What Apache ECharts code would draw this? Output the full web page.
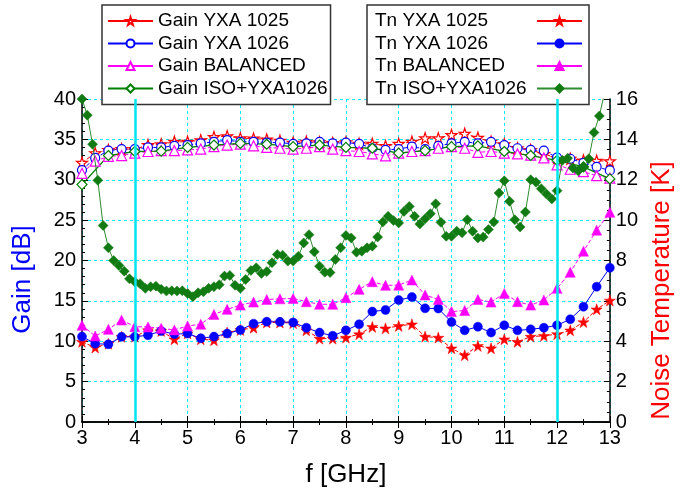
<!DOCTYPE html>
<html>
<head>
<meta charset="utf-8">
<script src="https://cdn.jsdelivr.net/npm/echarts@6/dist/echarts.min.js"></script>
<style>html,body{margin:0;padding:0;background:#fff}#c{width:683px;height:493px}</style>
</head>
<body>
<div id="c"></div>
<script>
// Frequencies (GHz)
const freqQ = [3,3.25,3.5,3.75,4,4.25,4.5,4.75,5,5.25,5.5,5.75,6,6.25,6.5,6.75,7,7.25,7.5,7.75,8,8.25,8.5,8.75,9,9.25,9.5,9.75,10,10.25,10.5,10.75,11,11.25,11.5,11.75,12,12.25,12.5,12.75,13];
const freqH = [3,3.5,4,4.5,5,5.5,6,6.5,7,7.5,8,8.5,9,9.5,10,10.5,11,11.5,12,12.5,13];
const freqT = [3,3.1,3.2,3.3,3.4,3.5,3.6,3.7,3.8,3.9,4,4.1,4.2,4.3,4.4,4.5,4.6,4.7,4.8,4.9,5,5.1,5.2,5.3,5.4,5.5,5.6,5.7,5.8,5.9,6,6.1,6.2,6.3,6.4,6.5,6.6,6.7,6.8,6.9,7,7.1,7.2,7.3,7.4,7.5,7.6,7.7,7.8,7.9,8,8.1,8.2,8.3,8.4,8.5,8.6,8.7,8.8,8.9,9,9.1,9.2,9.3,9.4,9.5,9.6,9.7,9.8,9.9,10,10.1,10.2,10.3,10.4,10.5,10.6,10.7,10.8,10.9,11,11.1,11.2,11.3,11.4,11.5,11.6,11.7,11.8,11.9,12,12.1,12.2,12.3,12.4,12.5,12.6,12.7,12.8,12.9,13];

// Gain [dB]
const gain1025 = [32.1,33.3,33.7,33.8,33.8,34.3,34.4,34.7,34.7,34.9,35.3,35.4,35.15,35.1,35.0,34.85,34.6,34.7,34.65,34.55,34.65,34.45,34.45,34.2,34.45,34.7,35.15,35.15,35.55,35.7,35.2,34.7,34.4,33.9,33.7,33.2,32.7,32.6,32.4,32.35,32.3];
const gain1026 = [31.2,32.7,33.6,33.8,33.8,34.0,34.0,34.2,34.3,34.5,34.7,34.9,34.7,34.7,34.6,34.6,34.45,34.5,34.7,34.5,34.6,34.45,33.9,33.7,33.8,34.1,33.8,34.2,34.5,34.7,34.5,34.7,34.3,33.9,33.7,33.6,32.75,32.6,32.1,31.6,31.15];
const gainBal = [30.8,32.3,32.9,33.0,33.3,33.5,33.6,33.6,33.7,33.8,34.1,34.3,34.4,34.2,34.0,33.9,33.8,33.9,34.1,33.8,33.6,33.5,33.2,32.96,33.3,33.5,33.6,33.9,34.1,33.9,33.4,33.5,33.3,33.2,33.05,32.7,31.85,31.3,31.0,30.5,30.2];
const gainIso = [29.4,33.0,33.5,33.55,34.0,34.3,34.5,34.4,34.1,34.3,34.0,33.9,33.3,33.6,34.1,34.2,33.5,33.0,32.4,31.6,30.1];

// Noise temperature [K]
const tn1025 = [3.97,3.69,3.88,4.22,4.23,4.55,4.51,4.10,4.39,4.10,4.05,4.43,4.56,4.67,4.93,4.93,4.90,4.54,4.13,4.13,4.18,4.35,4.71,4.64,4.76,4.84,4.23,4.18,3.65,3.31,3.77,3.65,4.10,3.97,4.23,4.27,4.35,4.54,4.95,5.58,6.02];
const tn1026 = [4.23,3.88,3.85,4.22,4.22,4.30,4.51,4.35,4.38,4.15,4.23,4.38,4.56,4.87,4.97,4.96,4.93,4.67,4.43,4.27,4.54,4.84,5.47,5.55,6.04,6.19,5.63,5.62,4.95,4.54,4.72,4.43,4.79,4.54,4.59,4.67,4.79,5.09,5.71,6.70,7.64];
const tnBal = [4.79,4.26,4.59,5.05,4.72,4.71,4.64,4.56,4.76,4.84,5.33,5.58,5.79,5.94,6.07,6.10,6.12,5.96,5.83,5.83,6.16,6.57,6.95,6.77,6.78,7.03,6.29,6.07,5.47,5.52,6.07,5.94,6.37,5.96,5.79,6.04,6.62,7.42,8.46,9.5,10.39];
const tnIso = [16.0,15.2,13.76,11.97,9.73,8.63,8.0,7.75,7.47,7.09,6.95,6.85,6.62,6.70,6.73,6.57,6.49,6.5,6.49,6.5,6.37,6.21,6.4,6.45,6.62,6.7,6.8,7.23,7.26,6.77,6.62,7.06,7.51,7.64,7.36,7.45,7.89,8.30,8.26,7.97,7.97,8.21,8.87,9.28,8.43,7.72,7.42,7.4,8.05,8.63,9.24,9.12,8.41,8.46,8.63,8.71,9.16,9.91,10.19,9.98,9.86,10.43,10.68,10.19,9.81,10.07,10.32,10.81,9.89,9.20,9.20,9.45,9.37,10.02,9.45,9.12,9.16,9.53,9.91,11.34,11.95,10.93,10.02,9.66,10.40,12.0,11.88,11.56,11.29,11.05,11.46,12.96,13.07,12.58,12.44,12.63,13.04,14.34,15.16,16.3,17.5];

const xTicks = [3,4,5,6,7,8,9,10,11,12,13];
const markFreqs = [4, 12];

const FONT = 'Liberation Sans, Arial, sans-serif';
const STAR = 'path://M50,2 L61.5,36 L97,36 L68.5,57.5 L79,92 L50,71 L21,92 L31.5,57.5 L3,36 L38.5,36 Z';
const zip = (xs, ys) => xs.map((x, i) => [x, ys[i]]);

const chart = echarts.init(document.getElementById('c'), null, {renderer: 'canvas'});

function gainSeries(name, xs, ys, color, symbol, size, lineType, lw) {
  return {
    name, type: 'line', xAxisIndex: 0, yAxisIndex: 0, data: zip(xs, ys),
    symbol, symbolSize: size, showSymbol: true,
    lineStyle: {color, width: lw, type: lineType},
    itemStyle: {color: '#fff', borderColor: color, borderWidth: 1.2},
    emphasis: {disabled: true}, z: 3
  };
}
function tnSeries(name, xs, ys, color, symbol, size, lineType, lineColor) {
  return {
    name, type: 'line', xAxisIndex: 0, yAxisIndex: 1, data: zip(xs, ys),
    symbol, symbolSize: size, showSymbol: true,
    lineStyle: {color: lineColor || color, width: 1, type: lineType},
    itemStyle: {color, borderColor: color, borderWidth: 0.5},
    emphasis: {disabled: true}, z: 4
  };
}

const series = [
  gainSeries('Gain YXA 1025', freqQ, gain1025, '#ff0000', STAR, 11, [4, 2], 1),
  gainSeries('Gain YXA 1026', freqQ, gain1026, '#0000ff', 'circle', 9, [4, 2], 1),
  gainSeries('Gain BALANCED', freqQ, gainBal, '#ff00ff', 'triangle', 10, [4, 2], 1),
  gainSeries('Gain ISO+YXA1026', freqH, gainIso, '#008000', 'diamond', 10, 'solid', 1.3),
  tnSeries('Tn YXA 1025', freqQ, tn1025, '#ff0000', STAR, 11, [4, 2]),
  tnSeries('Tn YXA 1026', freqQ, tn1026, '#0000ff', 'circle', 9, 'solid'),
  tnSeries('Tn BALANCED', freqQ, tnBal, '#ff00ff', 'triangle', 10, [4, 2]),
  tnSeries('Tn ISO+YXA1026', freqT, tnIso, '#127a12', 'diamond', 10, 'solid', '#2e8b2e')
];
series[0].markLine = {
  silent: true, symbol: ['none', 'none'], label: {show: false},
  lineStyle: {color: '#00e6f0', width: 2.5, type: 'solid'},
  data: markFreqs.map(f => ({xAxis: f}))
};

const gridLine = {show: true, lineStyle: {color: '#00f0ff', width: 1, type: [3, 3]}};
const axisLineStyle = {show: true, lineStyle: {color: '#000', width: 1.5}};
const labelStyle = {color: '#000', fontSize: 20, fontFamily: FONT, margin: 6};

const legendCommon = {
  orient: 'vertical', top: 5, itemWidth: 45, itemHeight: 10, itemGap: 3.5,
  borderColor: '#333', borderWidth: 1.5, backgroundColor: '#fff',
  textStyle: {color: '#000', fontSize: 19, lineHeight: 19, fontFamily: FONT},
  lineStyle: {type: 'solid'}, selectedMode: false
};

chart.setOption({
  animation: false,
  backgroundColor: '#fff',
  grid: {left: 82, right: 71, top: 99, bottom: 70},
  legend: [
    Object.assign({}, legendCommon, {
      left: 102, padding: [6.5, 3, 6.5, 5],
      data: ['Gain YXA 1025', 'Gain YXA 1026', 'Gain BALANCED', 'Gain ISO+YXA1026']
    }),
    Object.assign({}, legendCommon, {
      left: 367, align: 'right', padding: [6.5, 6, 6.5, 8],
      formatter: name => '{t|' + name + '}',
      textStyle: Object.assign({}, legendCommon.textStyle, {
        rich: {t: {width: 157, align: 'left', fontSize: 19, lineHeight: 19, fontFamily: FONT, color: '#000'}}
      }),
      data: ['Tn YXA 1025', 'Tn YXA 1026', 'Tn BALANCED', 'Tn ISO+YXA1026']
    })
  ],
  xAxis: [
    {
      type: 'value', min: 3, max: 13, interval: 1, position: 'bottom',
      axisLine: axisLineStyle,
      axisTick: {show: true, inside: true, length: 6, lineStyle: {color: '#000', width: 1}},
      minorTick: {show: true, splitNumber: 2, length: 3, lineStyle: {color: '#000'}},
      axisLabel: Object.assign({}, labelStyle, {formatter: v => xTicks.includes(v) ? String(v) : ''}),
      splitLine: gridLine,
      name: 'f [GHz]', nameLocation: 'middle', nameGap: 40,
      nameTextStyle: {color: '#000', fontSize: 26, fontFamily: FONT}
    },
    {
      type: 'value', min: 3, max: 13, interval: 1, position: 'top',
      axisLine: axisLineStyle,
      axisTick: {show: true, inside: true, length: 6, lineStyle: {color: '#000'}},
      minorTick: {show: true, splitNumber: 2, length: 3, lineStyle: {color: '#000'}},
      axisLabel: {show: false}, splitLine: {show: false}
    }
  ],
  yAxis: [
    {
      type: 'value', min: 0, max: 40, interval: 5, position: 'left',
      axisLine: axisLineStyle,
      axisTick: {show: true, inside: true, length: 6, lineStyle: {color: '#000'}},
      minorTick: {show: true, splitNumber: 5, length: 3, lineStyle: {color: '#000'}},
      axisLabel: labelStyle,
      splitLine: gridLine,
      name: 'Gain [dB]', nameLocation: 'middle', nameRotate: 90, nameGap: 46,
      nameTextStyle: {color: '#0000ff', fontSize: 26, fontFamily: FONT, padding: [0, 38, 0, 0]}
    },
    {
      type: 'value', min: 0, max: 16, interval: 2, position: 'right',
      axisLine: axisLineStyle,
      axisTick: {show: true, inside: true, length: 6, lineStyle: {color: '#000'}},
      minorTick: {show: true, splitNumber: 4, length: 3, lineStyle: {color: '#000'}},
      axisLabel: labelStyle,
      splitLine: {show: false},
      name: 'Noise Temperature [K]', nameLocation: 'middle', nameRotate: 90, nameGap: 38,
      nameTextStyle: {color: '#ff0000', fontSize: 26, fontFamily: FONT, padding: [0, 60, 0, 0]}
    }
  ],
  series
});
</script>
</body>
</html>
